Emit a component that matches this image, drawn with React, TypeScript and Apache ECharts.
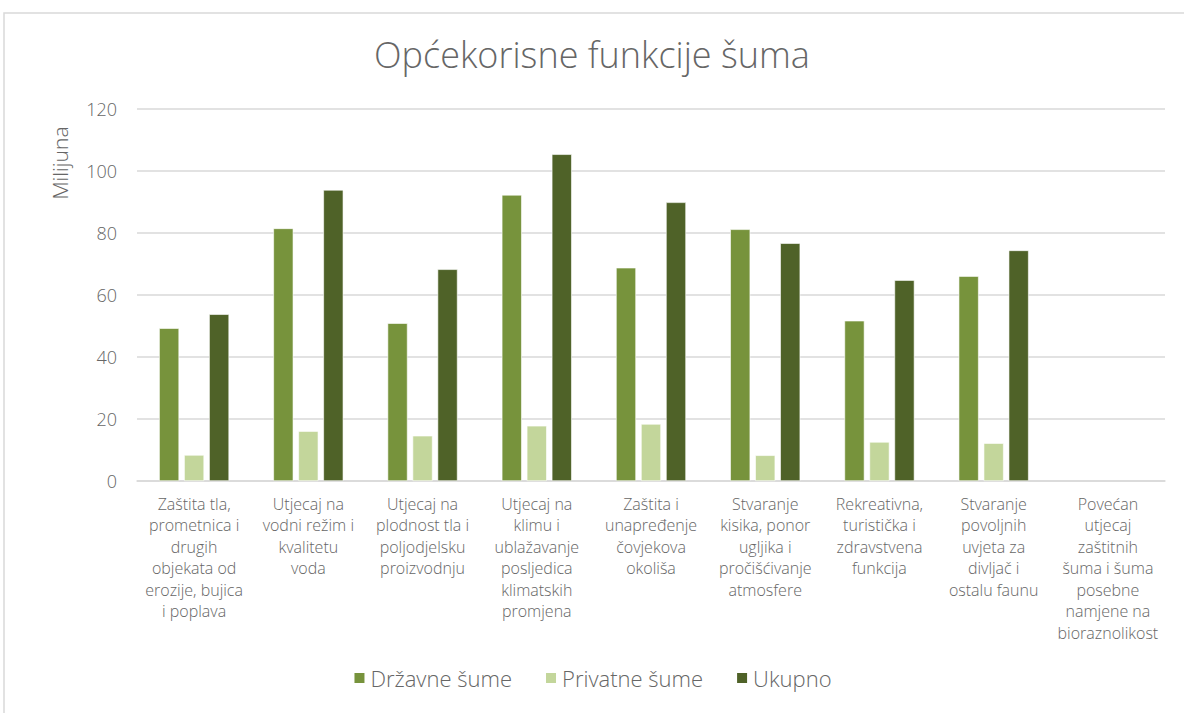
import React, { useEffect, useRef } from "react";
import * as echarts from "echarts";

const categories = [
  "Zaštita tla,\nprometnica i\ndrugih\nobjekata od\nerozije, bujica\ni poplava",
  "Utjecaj na\nvodni režim i\nkvalitetu\nvoda",
  "Utjecaj na\nplodnost tla i\npoljodjelsku\nproizvodnju",
  "Utjecaj na\nklimu i\nublažavanje\nposljedica\nklimatskih\npromjena",
  "Zaštita i\nunapređenje\nčovjekova\nokoliša",
  "Stvaranje\nkisika, ponor\nugljika i\npročišćivanje\natmosfere",
  "Rekreativna,\nturistička i\nzdravstvena\nfunkcija",
  "Stvaranje\npovoljnih\nuvjeta za\ndivljač i\nostalu faunu",
  "Povećan\nutjecaj\nzaštitnih\nšuma i šuma\nposebne\nnamjene na\nbioraznolikost",
];

const drzavne = [49.3, 81.5, 50.9, 92.3, 68.8, 81.2, 51.7, 66.1, null];
const privatne = [8.4, 16.1, 14.6, 17.8, 18.4, 8.3, 12.6, 12.2, null];
const ukupno = [53.8, 93.9, 68.3, 105.4, 89.9, 76.7, 64.8, 74.4, null];

const seriesNames = ["Državne šume", "Privatne šume", "Ukupno"];
const title = "Općekorisne funkcije šuma";
const yAxisName = "Milijuna";

const FONT = "'Open Sans', Lato, sans-serif";
const GRAY = "#666666";

export default function App() {
  const ref = useRef<HTMLDivElement>(null);
  useEffect(() => {
    if (!ref.current) return;
    const chart = echarts.init(ref.current, null, { renderer: "svg" });
    const colors = ["#77933C", "#C3D69B", "#4F6228"];
    const data = [drzavne, privatne, ukupno];
    chart.setOption({
      animation: false,
      backgroundColor: "#fff",
      textStyle: { fontFamily: FONT },
      title: {
        text: title,
        left: "center",
        top: 31,
        textStyle: { fontFamily: FONT, fontWeight: 300, fontSize: 36, color: GRAY },
      },
      legend: {
        bottom: 19,
        left: "center",
        itemWidth: 12,
        itemHeight: 12,
        itemGap: 32,
        icon: "rect",
        textStyle: { fontFamily: FONT, fontWeight: 300, fontSize: 22, color: GRAY },
        data: seriesNames,
      },
      grid: { left: 137, right: 19, top: 109, bottom: 232, containLabel: false },
      xAxis: {
        type: "category",
        data: categories,
        axisTick: { show: false },
        axisLine: { lineStyle: { color: "#D9D9D9", width: 1.5 } },
        axisLabel: {
          interval: 0,
          margin: 12,
          fontFamily: FONT,
          fontWeight: 300,
          fontSize: 16,
          lineHeight: 21.5,
          color: GRAY,
          align: "center",
        },
      },
      yAxis: {
        type: "value",
        min: 0,
        max: 120,
        interval: 20,
        axisLine: { show: false },
        axisTick: { show: false },
        splitLine: { lineStyle: { color: "#D9D9D9", width: 1.5 } },
        axisLabel: { margin: 20, fontFamily: FONT, fontWeight: 300, fontSize: 18, color: GRAY },
      },
      graphic: [
        {
          type: "rect",
          shape: { x: 4, y: 13, width: 1200, height: 720 },
          style: { fill: "none", stroke: "#D9D9D9", lineWidth: 1.5 },
          silent: true,
          z: -1,
        },
        {
          type: "text",
          x: 60,
          y: 163,
          rotation: Math.PI / 2,
          style: {
            text: yAxisName,
            fontFamily: FONT,
            fontWeight: 300,
            fontSize: 21,
            fill: GRAY,
            align: "center",
            verticalAlign: "middle",
          },
        },
      ],
      series: seriesNames.map((name, i) => ({
        name,
        type: "bar",
        data: data[i],
        barWidth: 20,
        barGap: "25%",
        itemStyle: { color: colors[i], borderColor: "#ffffff", borderWidth: 0.6 },
      })),
    });
    return () => chart.dispose();
  }, []);
  return <div ref={ref} style={{ width: 1184, height: 713, position: "absolute", left: 0, top: 0 }} />;
}
